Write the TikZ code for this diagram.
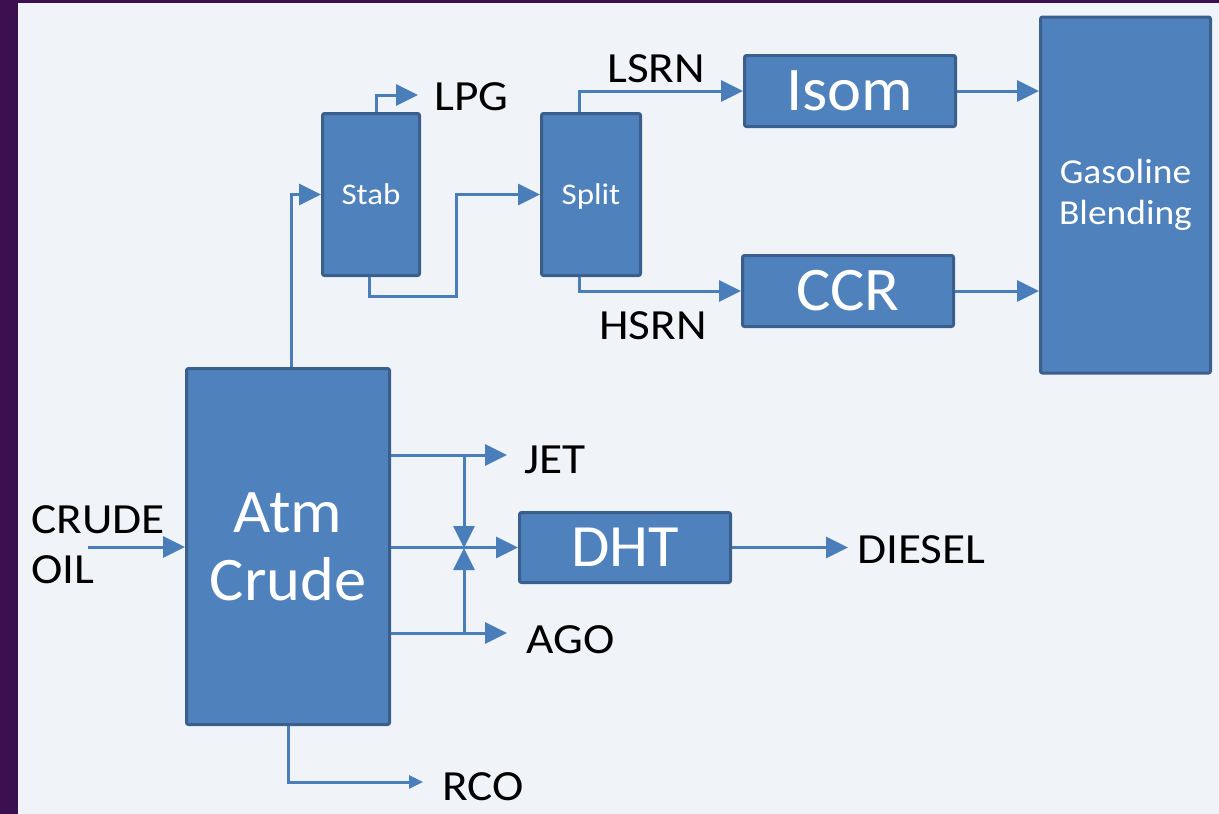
\documentclass[tikz,border=0pt]{standalone}
\usepackage{fontspec}
\setmainfont[FakeStretch=1.04]{Carlito}
\newfontfamily\widefont[FakeStretch=1.1]{Carlito}
\newfontfamily\midfont[FakeStretch=1.07]{Carlito}
\usetikzlibrary{arrows.meta}
\definecolor{bgcol}{RGB}{240,244,248}
\definecolor{framecol}{RGB}{60,15,80}
\definecolor{boxfill}{RGB}{79,129,189}
\definecolor{boxline}{RGB}{59,95,140}
\definecolor{flowcol}{RGB}{74,126,187}
\begin{document}
\begin{tikzpicture}[x=1pt,y=1pt,
  box/.style={draw=boxline, line width=3pt, fill=boxfill, rounded corners=2pt,
    inner sep=0pt, text=white, align=center},
  flow/.style={draw=flowcol, line width=3pt, -{Triangle[length=22pt,width=21pt]}},
  flowsmall/.style={draw=flowcol, line width=3pt, -{Triangle[length=14pt,width=13pt]}},
  lbl/.style={inner sep=0pt, text=black, font=\widefont\fontsize{43}{50}\selectfont},
  bigtext/.style={font=\fontsize{62}{68}\selectfont},
  smalltext/.style={font=\widefont\fontsize{30}{36}\selectfont},
  midtext/.style={font=\midfont\fontsize{35}{41}\selectfont}]
\useasboundingbox (0,0) rectangle (1219,-814);
\fill[framecol] (0,0) rectangle (1219,-814);
\fill[bgcol] (18,-3) rectangle (1219,-814);

% boxes
\node[box, bigtext, minimum width=203, minimum height=356] (atm) at (288,-546.5) {Atm\\Crude};
\node[box, smalltext, minimum width=97, minimum height=162] (stab) at (371,-194.5) {Stab};
\node[box, smalltext, text depth=0pt, minimum width=99, minimum height=162] (split) at (591,-194.5) {Split};
\node[box, bigtext, minimum width=211, minimum height=71] (isom) at (850,-91) {Isom};
\node[box, bigtext, minimum width=211, minimum height=71] (ccr) at (848,-291) {CCR};
\node[box, midtext, minimum width=170, minimum height=356] (gas) at (1125.5,-195) {Gasoline\\Blending};
\node[box, font=\fontsize{60}{66}\selectfont, minimum width=211, minimum height=70] (dht) at (625,-547.5) {DHT};

% free ends and bends
\coordinate (crudestart) at (88,-547);
\coordinate (lpgend) at (418,-95);
\coordinate (sbend) at (456,-296);
\coordinate (jetend) at (507,-455);
\coordinate (agoend) at (507,-633);
\coordinate (jv) at (464,-455);
\coordinate (av) at (464,-633);
\coordinate (mv) at (464,-548);
\coordinate (dieselend) at (848,-548);
\coordinate (rcoend) at (423,-782);

% connectors
\draw[flow] (crudestart) -- (crudestart -| atm.west);
\draw[flow] ([xshift=3pt]atm.north) |- (stab.west);
\draw[flow] ([xshift=5pt]stab.north) |- (lpgend);
\draw[flow] ([xshift=-2pt]stab.south) |- (sbend) |- (split.west);
\draw[flow] ([xshift=-12pt]split.north) |- (isom.west);
\draw[flow] ([xshift=-12pt]split.south) |- (ccr.west);
\draw[flow] (isom.east) -- (isom.east -| gas.west);
\draw[flow] (ccr.east) -- (ccr.east -| gas.west);
\draw[flow] (jetend -| atm.east) -- (jetend);
\draw[flow] (dht.west -| atm.east) -- (dht.west);
\draw[flow] (agoend -| atm.east) -- (agoend);
\draw[flow] (jv) -- (mv);
\draw[flow] (av) -- (mv);
\draw[flow] (dht.east) -- (dht.east -| dieselend);
\draw[flowsmall] (atm.south) |- (rcoend);

% labels
\node[lbl, anchor=north west, align=left] (crudelbl) at (31,-505) {CRUDE\\OIL};
\node[lbl, anchor=base west] (lpglbl) at (434,-110) {LPG};
\node[lbl, anchor=base west] (lsrnlbl) at (607,-82) {LSRN};
\node[lbl, anchor=base west] (hsrnlbl) at (599,-339) {HSRN};
\node[lbl, anchor=base west] (jetlbl) at (524,-473) {JET};
\node[lbl, anchor=base west] (agolbl) at (526,-653) {AGO};
\node[lbl, anchor=base west] (diesellbl) at (857,-563) {DIESEL};
\node[lbl, anchor=base west] (rcolbl) at (442,-800) {RCO};
\end{tikzpicture}
\end{document}
